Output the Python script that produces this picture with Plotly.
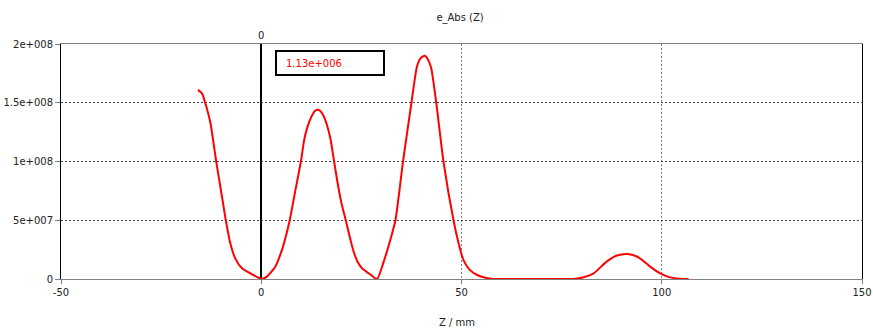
import plotly.graph_objects as go

# Z position (mm) and |E| values
z = [-15.8, -14.8, -14.0, -12.7, -11.2, -9.8, -8.8, -7.7, -6.5, -4.8, -2.3, 0.2,
     1.4, 3.5, 5.2, 6.2, 7.1, 8.5, 9.9, 10.7, 11.4, 12.5, 13.4, 14.2, 15.0, 15.8, 16.5, 17.3,
     18.2, 19.0, 20.0, 21.1, 22.6, 23.5, 24.5, 25.5, 27.0, 28.9,
     30.5, 32.2, 33.5, 35.4, 37.5, 38.9, 39.8, 40.8, 41.6, 42.4, 43.7, 45.5, 48.0, 49.3,
     50.5, 52.0, 53.9, 56.0, 58.0, 62.0, 66.0, 70.0, 74.0, 78.0,
     80.5, 83.0, 86.3, 88.8, 91.5, 94.2, 97.1, 99.6, 102.1, 104.5, 106.7]
e_abs = [161e6, 158e6, 150e6, 133e6, 99e6, 70e6, 49e6, 30e6, 17.6e6, 9.1e6, 4.0e6, 0.0,
         2.0e6, 10.5e6, 25e6, 37e6, 50e6, 75e6, 100e6, 118e6, 128e6, 138e6, 143e6, 144e6, 142e6, 137e6, 130e6, 119e6,
         100e6, 83e6, 65e6, 50e6, 29e6, 19e6, 12e6, 8e6, 4.5e6, 0.0,
         14e6, 33e6, 50e6, 100e6, 150e6, 181e6, 188e6, 190e6, 187e6, 180e6, 150e6, 100e6, 50e6, 30e6,
         16e6, 8e6, 3.4e6, 1.0e6, 0.0, 0.0, 0.0, 0.0, 0.0, 0.0,
         1.5e6, 4.8e6, 15e6, 20e6, 21.3e6, 18.5e6, 10.5e6, 4.8e6, 1.4e6, 0.3e6, 0.0]

x_ticks = [-50, 0, 50, 100, 150]
y_ticks = [0, 5e7, 1e8, 1.5e8, 2e8]
y_tick_text = ["0", "5e+007", "1e+008", "1.5e+008", "2e+008"]
title_text = "e_Abs (Z)"
x_title = "Z / mm"
box_text = "1.13e+006"

FONT = "DejaVu Sans"

fig = go.Figure()
fig.add_trace(go.Scatter(x=z, y=e_abs, mode="lines",
                         line=dict(color="#ff0000", width=2, shape="spline", smoothing=0.6),
                         showlegend=False, hoverinfo="skip"))

fig.update_layout(
    width=873, height=329,
    margin=dict(l=61, r=11, t=44, b=50, autoexpand=False),
    paper_bgcolor="white", plot_bgcolor="white",
    font=dict(family=FONT, size=10, color="#222222"),
    title=dict(text=title_text, x=0.527, xanchor="center", y=1 - 17 / 329,
               yanchor="middle", yref="container",
               font=dict(family=FONT, size=10, color="#222222")),
    xaxis=dict(range=[-50, 150], tickvals=x_ticks, ticktext=[str(v) for v in x_ticks],
               showgrid=True, gridcolor="#808080", griddash="2px,2px", gridwidth=1,
               zeroline=True, zerolinecolor="#000000", zerolinewidth=2,
               showline=True, linecolor="#808080", linewidth=1, mirror=True,
               ticks="outside", ticklen=4, tickcolor="#808080", automargin=False,
               tickfont=dict(family=FONT, size=10, color="#222222")),
    yaxis=dict(range=[0, 2e8], tickvals=y_ticks, ticktext=y_tick_text,
               showgrid=True, gridcolor="#404040", griddash="2px,2px", gridwidth=1,
               zeroline=True, zerolinecolor="#808080", zerolinewidth=3,
               showline=True, linecolor="#000000", linewidth=1, mirror=True,
               ticks="outside", ticklen=5, tickcolor="#808080", automargin=False,
               tickfont=dict(family=FONT, size=10, color="#222222")),
)

# x-axis title
fig.add_annotation(text=x_title, xref="paper", yref="paper", x=0.494, y=0,
                   yshift=-43, showarrow=False, xanchor="center", yanchor="middle",
                   font=dict(family=FONT, size=10, color="#222222"))
# "0" label above the zero line
fig.add_annotation(text="0", xref="x", yref="paper", x=0, y=1, yshift=1,
                   showarrow=False, xanchor="center", yanchor="bottom",
                   font=dict(family=FONT, size=10, color="#222222"))
# value box
fig.add_shape(type="rect", xref="paper", yref="paper",
              x0=(276 - 61) / 801, x1=(384 - 61) / 801,
              y0=(279 - 75) / 235, y1=(279 - 51) / 235,
              line=dict(color="#000000", width=2), fillcolor="white")
fig.add_annotation(text=box_text, xref="paper", yref="paper",
                   x=(284 - 61) / 801, y=(279 - 63) / 235, showarrow=False,
                   xanchor="left", yanchor="middle",
                   font=dict(family=FONT, size=10, color="#ff0000"))

fig.write_html("out.html", config={"displayModeBar": False},
               post_script="document.body.style.margin='0';document.body.style.overflow='hidden';")
